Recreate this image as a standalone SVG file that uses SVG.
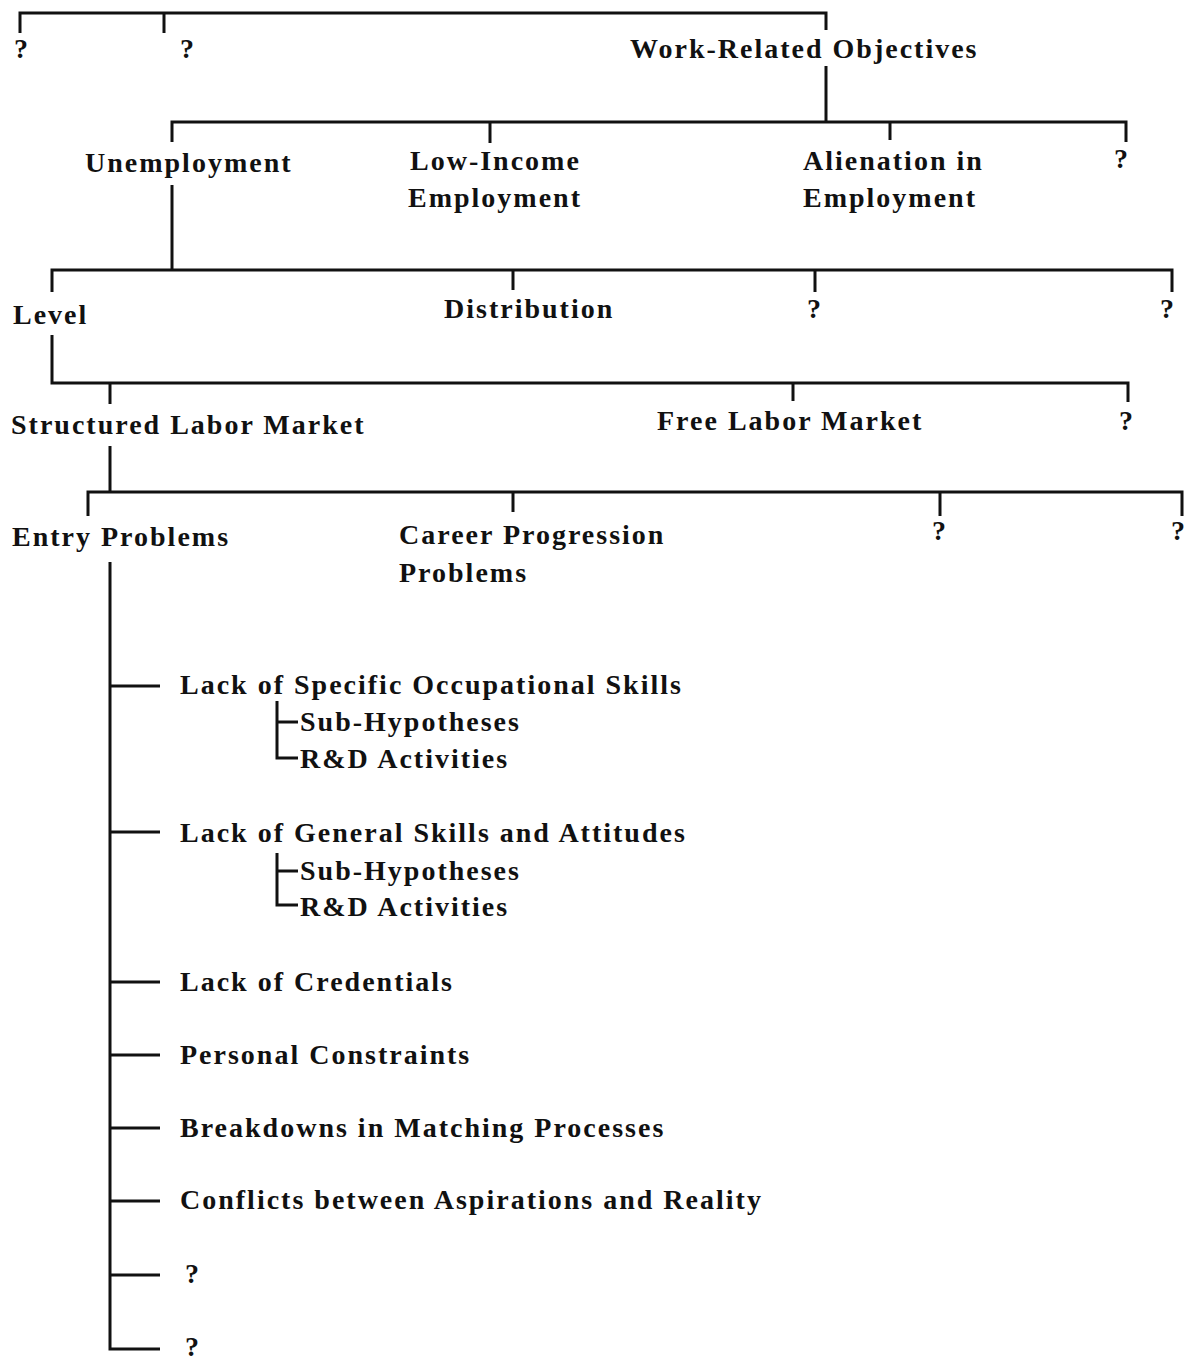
<svg xmlns="http://www.w3.org/2000/svg" width="1197" height="1360" viewBox="0 0 1197 1360">
<style>
text{font-family:"Liberation Serif","Times New Roman",serif;font-size:28px;font-weight:bold;fill:#111;letter-spacing:2px}
.c line,.c path{stroke:#111;stroke-width:3;fill:none}
</style>
<rect width="1197" height="1360" fill="#fff"/>
<g class="c" id="connectors">
<path d="M20 33V13H826V30"/>
<line x1="164" y1="13" x2="164" y2="33"/>
<line x1="826" y1="66" x2="826" y2="122"/>
<path d="M172 142V122H1126V142"/>
<line x1="490" y1="122" x2="490" y2="143"/>
<line x1="890" y1="122" x2="890" y2="140"/>
<line x1="172" y1="185" x2="172" y2="270"/>
<path d="M52 292V270H1172V292"/>
<line x1="513" y1="270" x2="513" y2="290"/>
<line x1="815" y1="270" x2="815" y2="292"/>
<path d="M52 335V383H1128V402"/>
<line x1="110" y1="383" x2="110" y2="404"/>
<line x1="793" y1="383" x2="793" y2="401"/>
<line x1="110" y1="446" x2="110" y2="492"/>
<path d="M88 516V492H1182V516"/>
<line x1="513" y1="492" x2="513" y2="512"/>
<line x1="940" y1="492" x2="940" y2="516"/>
<path d="M110 562V1349H160"/>
<line x1="110" y1="686" x2="160" y2="686"/>
<line x1="110" y1="832" x2="160" y2="832"/>
<line x1="110" y1="982" x2="160" y2="982"/>
<line x1="110" y1="1055" x2="160" y2="1055"/>
<line x1="110" y1="1128" x2="160" y2="1128"/>
<line x1="110" y1="1201" x2="160" y2="1201"/>
<line x1="110" y1="1275" x2="160" y2="1275"/>
<path d="M277 701V758H298"/>
<line x1="277" y1="722" x2="298" y2="722"/>
<path d="M277 853V905H298"/>
<line x1="277" y1="871" x2="298" y2="871"/>
</g>
<g id="n-q1"><text x="14" y="58">?</text></g>
<g id="n-q2"><text x="180" y="58">?</text></g>
<g id="n-work"><text x="630" y="58">Work-Related Objectives</text></g>
<g id="n-unemp"><text x="85" y="172">Unemployment</text></g>
<g id="n-lowinc"><text x="410" y="170">Low-Income</text><text x="408" y="207">Employment</text></g>
<g id="n-alien"><text x="803" y="170">Alienation in</text><text x="803" y="207">Employment</text></g>
<g id="n-q3"><text x="1114" y="168">?</text></g>
<g id="n-level"><text x="13" y="324">Level</text></g>
<g id="n-dist"><text x="444" y="318">Distribution</text></g>
<g id="n-q4"><text x="807" y="318">?</text></g>
<g id="n-q5"><text x="1160" y="318">?</text></g>
<g id="n-struct"><text x="11" y="434">Structured Labor Market</text></g>
<g id="n-free"><text x="657" y="430">Free Labor Market</text></g>
<g id="n-q6"><text x="1119" y="430">?</text></g>
<g id="n-entry"><text x="12" y="546">Entry Problems</text></g>
<g id="n-career"><text x="399" y="544">Career Progression</text><text x="399" y="582">Problems</text></g>
<g id="n-q7"><text x="932" y="540">?</text></g>
<g id="n-q8"><text x="1171" y="540">?</text></g>
<g id="n-spec"><text x="180" y="694">Lack of Specific Occupational Skills</text><text x="300" y="731">Sub-Hypotheses</text><text x="300" y="768">R&amp;D Activities</text></g>
<g id="n-gen"><text x="180" y="842">Lack of General Skills and Attitudes</text><text x="300" y="880">Sub-Hypotheses</text><text x="300" y="916">R&amp;D Activities</text></g>
<g id="n-cred"><text x="180" y="991">Lack of Credentials</text></g>
<g id="n-pers"><text x="180" y="1064">Personal Constraints</text></g>
<g id="n-break"><text x="180" y="1137">Breakdowns in Matching Processes</text></g>
<g id="n-conf"><text x="180" y="1209">Conflicts between Aspirations and Reality</text></g>
<g id="n-q9"><text x="185" y="1283">?</text></g>
<g id="n-q10"><text x="185" y="1356">?</text></g>
</svg>
